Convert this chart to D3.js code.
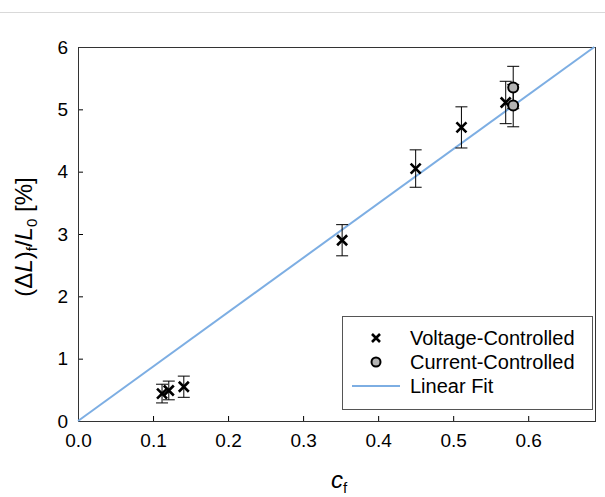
<!DOCTYPE html>
<html>
<head>
<meta charset="utf-8">
<script src="https://cdn.jsdelivr.net/npm/d3@7"></script>
<style>
  body { margin: 0; background: #fff; }
  text { font-family: "Liberation Sans", Arial, sans-serif; }
</style>
</head>
<body>
<svg width="605" height="497"></svg>
<script>
// voltage-controlled points: cf, strain, error
const voltX = [0.112, 0.121, 0.141, 0.352, 0.45, 0.511, 0.57];
const voltY = [0.44, 0.49, 0.55, 2.9, 4.05, 4.71, 5.11];
const voltErr = [0.15, 0.15, 0.17, 0.25, 0.3, 0.33, 0.34];

// current-controlled points
const currX = [0.58, 0.58];
const currY = [5.35, 5.06];
const currErr = [0.34, 0.34];

const fitSlope = 8.72;
const xTicks = [0, 0.1, 0.2, 0.3, 0.4, 0.5, 0.6];
const yTicks = [0, 1, 2, 3, 4, 5, 6];

const svg = d3.select('svg');
const m = {left: 78, right: 595, top: 47, bottom: 421};

let x = d3.scaleLinear().domain([0, 0.689]).range([m.left, m.right]);
let y = d3.scaleLinear().domain([0, 6]).range([m.bottom, m.top]);

// thin gray rule at the top
svg.append('line').attr('x1', 0).attr('x2', 605).attr('y1', 12.5).attr('y2', 12.5)
  .attr('stroke', '#d9d9d9').attr('stroke-width', 1);

// axes with inward ticks
svg.append('g').attr('transform', `translate(0,${m.bottom})`)
  .call(d3.axisBottom(x).tickValues(xTicks).tickFormat(d3.format('.1f')).tickSizeInner(-5).tickSizeOuter(0).tickPadding(13))
  .call(g => g.select('.domain').remove())
  .call(g => g.selectAll('line').attr('stroke', '#000'))
  .call(g => g.selectAll('text').attr('font-size', 19).attr('fill', '#000'));

svg.append('g').attr('transform', `translate(${m.left},0)`)
  .call(d3.axisLeft(y).tickValues(yTicks).tickFormat(d3.format('d')).tickSizeInner(-5).tickSizeOuter(0).tickPadding(10))
  .call(g => g.select('.domain').remove())
  .call(g => g.selectAll('line').attr('stroke', '#000'))
  .call(g => g.selectAll('text').attr('font-size', 19).attr('fill', '#000'));

// frame
svg.append('rect').attr('x', m.left + 0.5).attr('y', m.top + 0.5)
  .attr('width', m.right - m.left).attr('height', m.bottom - m.top)
  .attr('fill', 'none').attr('stroke', '#333').attr('stroke-width', 1);

// linear fit
let fitEnd = 6 / fitSlope;
svg.append('line')
  .attr('x1', x(0)).attr('y1', y(0))
  .attr('x2', x(fitEnd)).attr('y2', y(6))
  .attr('stroke', '#7daee3').attr('stroke-width', 2);

function errorBars(xs, ys, es) {
  let g = svg.append('g').attr('stroke', '#000').attr('stroke-width', 1);
  xs.forEach((v, i) => {
    let cx = x(v), lo = y(ys[i] - es[i]), hi = y(ys[i] + es[i]);
    g.append('line').attr('x1', cx).attr('x2', cx).attr('y1', lo).attr('y2', hi);
    g.append('line').attr('x1', cx - 6).attr('x2', cx + 6).attr('y1', lo).attr('y2', lo);
    g.append('line').attr('x1', cx - 6).attr('x2', cx + 6).attr('y1', hi).attr('y2', hi);
  });
}

function cross(g, cx, cy, s) {
  g.append('path')
    .attr('d', `M${cx - s},${cy - s}L${cx + s},${cy + s}M${cx - s},${cy + s}L${cx + s},${cy - s}`)
    .attr('stroke', '#000').attr('stroke-width', 2.6).attr('fill', 'none');
}

errorBars(voltX, voltY, voltErr);
errorBars(currX, currY, currErr);

let marks = svg.append('g');
voltX.forEach((v, i) => cross(marks, x(v), y(voltY[i]), 5));
currX.forEach((v, i) => {
  marks.append('circle').attr('cx', x(v)).attr('cy', y(currY[i])).attr('r', 5)
    .attr('fill', '#b3b3b3').attr('stroke', '#000').attr('stroke-width', 2);
});

// legend
let lg = svg.append('g');
lg.append('rect').attr('x', 342.5).attr('y', 316.5).attr('width', 250).attr('height', 93)
  .attr('fill', '#fff').attr('stroke', '#555').attr('stroke-width', 1);
cross(lg, 376, 338, 4);
lg.append('circle').attr('cx', 376).attr('cy', 362).attr('r', 4.5)
  .attr('fill', '#b3b3b3').attr('stroke', '#000').attr('stroke-width', 2);
lg.append('line').attr('x1', 352).attr('x2', 400).attr('y1', 386).attr('y2', 386)
  .attr('stroke', '#7daee3').attr('stroke-width', 2);
['Voltage-Controlled', 'Current-Controlled', 'Linear Fit'].forEach((t, i) => {
  lg.append('text').attr('x', 410).attr('y', 338 + i * 24).attr('dy', '0.35em')
    .attr('font-size', 20).text(t);
});

// axis titles
let xl = svg.append('text').attr('x', 339).attr('y', 488).attr('text-anchor', 'middle').attr('font-size', 24);
xl.append('tspan').attr('font-style', 'italic').text('c');
xl.append('tspan').attr('font-size', 15).attr('dy', 5).text('f');

let yl = svg.append('text').attr('transform', 'translate(32,237) rotate(-90)')
  .attr('text-anchor', 'middle').attr('font-size', 24);
yl.append('tspan').text('(Δ');
yl.append('tspan').attr('font-style', 'italic').text('L');
yl.append('tspan').text(')');
yl.append('tspan').attr('font-size', 15).attr('dy', 5).text('f');
yl.append('tspan').attr('dy', -5).text('/');
yl.append('tspan').attr('font-style', 'italic').text('L');
yl.append('tspan').attr('font-size', 15).attr('dy', 5).text('0');
yl.append('tspan').attr('dy', -5).text(' [%]');
</script>
</body>
</html>
